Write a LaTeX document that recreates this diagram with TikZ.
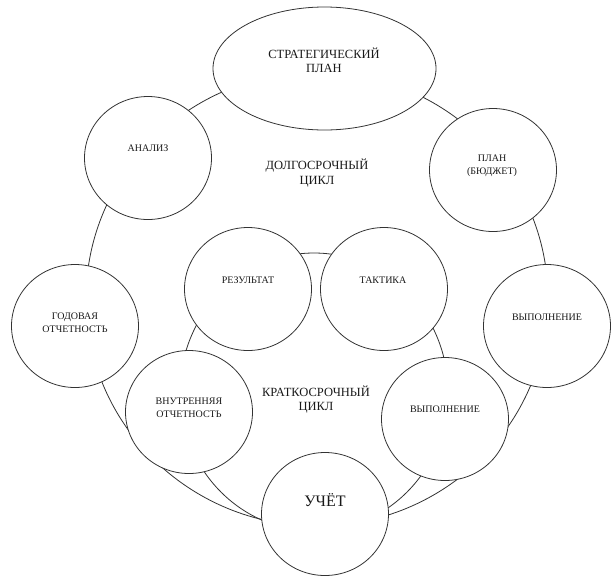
\documentclass[tikz,border=0pt]{standalone}
\usepackage{fontspec}
\setmainfont{Liberation Serif}
\usetikzlibrary{shapes.geometric}
\begin{document}
\begin{tikzpicture}[x=1pt,y=-1pt,
  ring/.style={draw=black!80, line width=0.8pt, ellipse, inner sep=0pt},
  stage/.style={draw=black!80, fill=white, line width=0.8pt, ellipse, inner sep=0pt,
                minimum width=127pt, minimum height=123pt},
  lbl/.style={font=\fontsize{10}{13}\selectfont, align=center, inner sep=0pt, text=black!90},
  biglbl/.style={font=\fontsize{12.5}{14.5}\selectfont, align=center, inner sep=0pt, text=black!90},
  hugelbl/.style={font=\fontsize{16}{18}\selectfont, align=center, inner sep=0pt, text=black!90},
]
\useasboundingbox (0,0) rectangle (616,579);
% cycles
\node[ring, minimum width=462pt, minimum height=454pt] (longcycle) at (317,299) {};
\node[ring, minimum width=268pt, minimum height=278pt] (shortcycle) at (314,392) {};
% stages
\node[stage, minimum width=223pt, minimum height=123pt] (strat) at (324.5,68.5) {};
\node[stage] (analiz) at (148,158) {};
\node[stage] (plan) at (493,170) {};
\node[stage] (godovaya) at (75,326) {};
\node[stage] (vypout) at (547,326) {};
\node[stage] (rezultat) at (248,289) {};
\node[stage] (taktika) at (384,289) {};
\node[stage] (vnutr) at (189,412) {};
\node[stage] (vypin) at (445,419) {};
\node[stage] (uchet) at (325,514) {};
% labels
\node[biglbl] (t-strat) at (324,60.5) {СТРАТЕГИЧЕСКИЙ\\ПЛАН};
\node[biglbl] (t-long) at (317,173) {ДОЛГОСРОЧНЫЙ\\ЦИКЛ};
\node[biglbl] (t-short) at (316,399.5) {КРАТКОСРОЧНЫЙ\\ЦИКЛ};
\node[lbl] (t-analiz) at (148,148) {АНАЛИЗ};
\node[lbl] (t-plan) at (492,165.5) {ПЛАН\\(БЮДЖЕТ)};
\node[lbl] (t-godovaya) at (75,322.5) {ГОДОВАЯ\\ОТЧЕТНОСТЬ};
\node[lbl] (t-vypout) at (547,317) {ВЫПОЛНЕНИЕ};
\node[lbl] (t-rezultat) at (248,280) {РЕЗУЛЬТАТ};
\node[lbl] (t-taktika) at (383,280) {ТАКТИКА};
\node[lbl] (t-vnutr) at (189,408) {ВНУТРЕННЯЯ\\ОТЧЕТНОСТЬ};
\node[lbl] (t-vypin) at (445,409) {ВЫПОЛНЕНИЕ};
\node[hugelbl] (t-uchet) at (325,500) {УЧЁТ};
\end{tikzpicture}
\end{document}
